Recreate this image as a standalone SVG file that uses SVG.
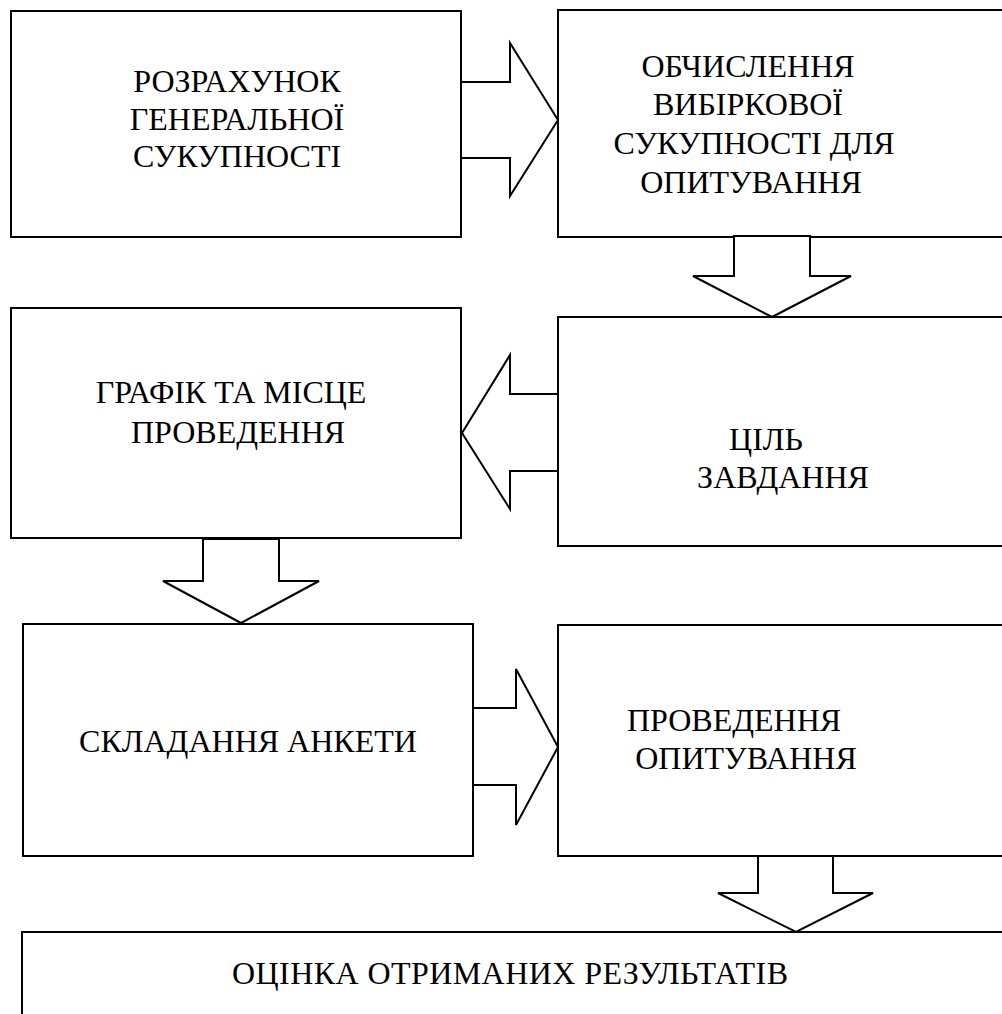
<svg xmlns="http://www.w3.org/2000/svg" width="1002" height="1014" viewBox="0 0 1002 1014">
<style>
.box{fill:#fff;stroke:#000;stroke-width:2}
.arr{fill:#fff;stroke:#000;stroke-width:2;stroke-linejoin:miter}
text{font-family:"Liberation Serif","Times New Roman",serif;font-size:32px;fill:#000;text-anchor:middle}
</style>
<rect x="0" y="0" width="1002" height="1014" fill="#fff"/>
<g id="n1"><rect class="box" x="11" y="11" width="450" height="226"/>
<text x="237" y="92">РОЗРАХУНОК</text><text x="237" y="130">ГЕНЕРАЛЬНОЇ</text><text x="237" y="167">СУКУПНОСТІ</text></g>
<g id="n2"><rect class="box" x="558" y="10" width="460" height="227"/>
<text x="748" y="77">ОБЧИСЛЕННЯ</text><text x="748" y="115">ВИБІРКОВОЇ</text><text x="754" y="154">СУКУПНОСТІ ДЛЯ</text><text x="751" y="193">ОПИТУВАННЯ</text></g>
<g id="n3"><rect class="box" x="11" y="308" width="450" height="230"/>
<text x="231" y="403">ГРАФІК ТА МІСЦЕ</text><text x="238" y="443">ПРОВЕДЕННЯ</text></g>
<g id="n4"><rect class="box" x="558" y="317" width="460" height="229"/>
<text x="766" y="450">ЦІЛЬ</text><text x="783" y="488">ЗАВДАННЯ</text></g>
<g id="n5"><rect class="box" x="23" y="624" width="450" height="232"/>
<text x="248" y="752">СКЛАДАННЯ АНКЕТИ</text></g>
<g id="n6"><rect class="box" x="558" y="625" width="460" height="231"/>
<text x="734" y="731">ПРОВЕДЕННЯ</text><text x="746" y="769">ОПИТУВАННЯ</text></g>
<g id="n7"><rect class="box" x="22" y="932" width="1000" height="120"/>
<text x="510" y="984" textLength="556" lengthAdjust="spacing">ОЦІНКА ОТРИМАНИХ РЕЗУЛЬТАТІВ</text></g>
<g id="connectors">
<polygon class="arr" points="461,82 510,82 510,43 558,120 510,196 510,158 461,158"/>
<polygon class="arr" points="734,236 810,236 810,276 851,276 772,317 693,276 734,276"/>
<polygon class="arr" points="558,394 510,394 510,355 462,433 510,509 510,471 558,471"/>
<polygon class="arr" points="203,539 279,539 279,581 319,581 241,623 163,581 203,581"/>
<polygon class="arr" points="473,708 516,708 516,669 558,747 516,825 516,785 473,785"/>
<polygon class="arr" points="758,856 833,856 833,893 873,893 796,932 718,893 758,893"/>
</g>
</svg>
